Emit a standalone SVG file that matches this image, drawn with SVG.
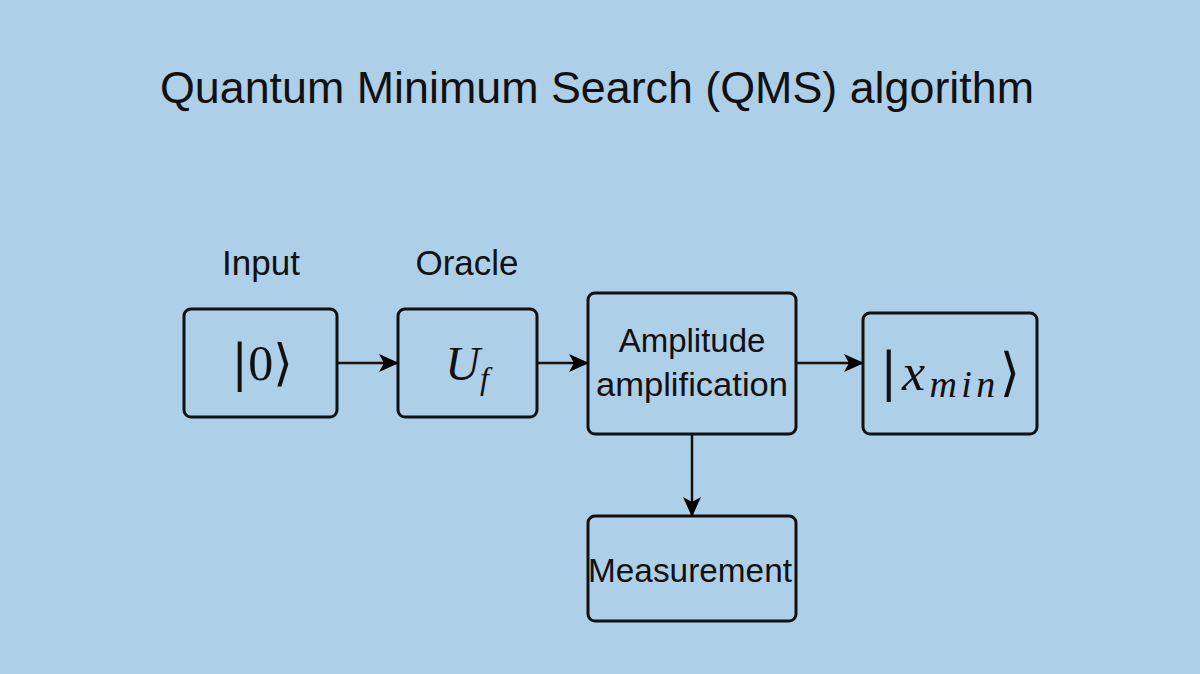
<svg xmlns="http://www.w3.org/2000/svg" width="1200" height="674" viewBox="0 0 1200 674">
<defs>
<marker id="ah" markerWidth="20" markerHeight="18" refX="18" refY="9" orient="auto" markerUnits="userSpaceOnUse" viewBox="0 0 20 18">
<path d="M0,0 L20,9 L0,18 L5,9 Z" fill="#000"/>
</marker>
<style>
.box{fill:none;stroke:#111;stroke-width:3}
.lbl{font-family:"Liberation Sans","Open Sans",sans-serif;fill:#111;text-anchor:middle}
.math{font-family:"Liberation Serif","DejaVu Serif",serif;fill:#111;text-anchor:middle;font-style:italic}
.br{font-family:"DejaVu Serif","Liberation Serif",serif;fill:#111;font-style:normal}
.edge{stroke:#111;stroke-width:2.5;fill:none;marker-end:url(#ah)}
</style>
</defs>
<rect width="1200" height="674" fill="#AECFE8"/>
<text class="lbl" x="597" y="103" font-size="44" textLength="874" lengthAdjust="spacingAndGlyphs">Quantum Minimum Search (QMS) algorithm</text>
<text class="lbl" x="261" y="275" font-size="35">Input</text>
<text class="lbl" x="467" y="275" font-size="35">Oracle</text>
<g id="input">
<rect class="box" x="184" y="309" width="153" height="108" rx="7"/>
<text class="math" x="262" y="380" font-size="50" style="font-style:normal"><tspan class="br">|</tspan>0<tspan class="br">⟩</tspan></text>
</g>
<g id="oracle">
<rect class="box" x="398" y="309" width="139" height="108" rx="7"/>
<text class="math" x="467" y="380" font-size="48">U<tspan font-size="32" dy="9">f</tspan></text>
</g>
<g id="amp">
<rect class="box" x="588" y="293" width="208" height="141" rx="7"/>
<text class="lbl" x="692" y="352" font-size="33">Amplitude</text>
<text class="lbl" x="692" y="396" font-size="33" textLength="192" lengthAdjust="spacingAndGlyphs">amplification</text>
</g>
<g id="xmin">
<rect class="box" x="863" y="313" width="174" height="121" rx="7"/>
<text class="math" x="950" y="390" font-size="52" textLength="140" lengthAdjust="spacing"><tspan class="br">|</tspan>x<tspan font-size="38" dy="7">min</tspan><tspan class="br" font-size="52" dy="-7">⟩</tspan></text>
</g>
<g id="measure">
<rect class="box" x="588" y="516" width="208" height="105" rx="7"/>
<text class="lbl" x="690" y="582" font-size="33" textLength="204" lengthAdjust="spacingAndGlyphs">Measurement</text>
</g>
<g id="connectors">
<line class="edge" x1="337" y1="363" x2="397" y2="363"/>
<line class="edge" x1="537" y1="363" x2="587" y2="363"/>
<line class="edge" x1="796" y1="363" x2="862" y2="363"/>
<line class="edge" x1="692" y1="434" x2="692" y2="515"/>
</g>
</svg>
